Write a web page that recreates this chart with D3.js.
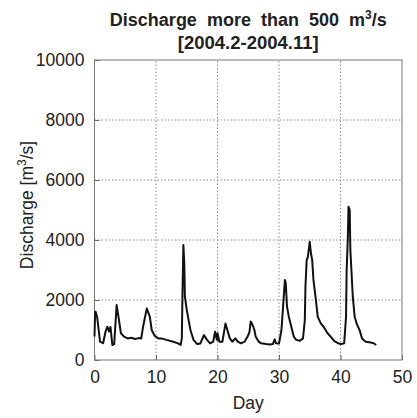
<!DOCTYPE html>
<html><head><meta charset="utf-8">
<script src="https://cdn.jsdelivr.net/npm/d3@7"></script>
<style>body{margin:0;background:#fff;} text{font-family:"Liberation Sans",Arial,sans-serif;}</style>
</head><body>
<svg id="chart" width="417" height="418"></svg>
<script>
const days = [0,0.1,0.2,0.45,0.9,1.4,1.8,2.1,2.35,2.6,2.9,3.2,3.6,3.9,4.3,4.8,5.4,6.0,6.6,7.2,7.6,7.9,8.5,9.0,9.3,9.8,10.4,10.9,11.7,12.8,13.6,14.0,14.2,14.3,14.45,14.6,14.7,15.0,15.3,15.6,16.1,16.7,17.2,17.8,18.3,18.8,19.3,19.6,19.9,20.0,20.3,20.8,21.3,21.6,22.0,22.4,22.9,23.3,23.8,24.4,24.9,25.2,25.4,25.7,26.0,26.2,26.7,27.1,27.9,28.5,29.0,29.3,29.5,30.0,30.4,30.7,30.96,31.1,31.3,31.6,32.0,32.4,32.8,33.4,33.9,34.2,34.3,34.5,34.7,34.8,35.0,35.2,35.4,35.6,36.0,36.3,36.8,37.4,37.9,38.4,39.0,39.6,40.1,40.6,40.9,41.0,41.2,41.3,41.5,41.6,41.8,42.0,42.3,42.7,43.1,43.5,44.1,44.9,45.4,45.8];
const discharge = [780,1610,1600,1400,610,560,950,1110,950,1100,500,530,1830,1440,890,780,720,740,700,730,720,1110,1720,1440,1000,800,720,720,670,610,555,500,720,2110,3830,3220,2110,1670,1330,1000,670,530,550,830,670,555,610,940,670,890,610,610,1220,1000,720,610,720,610,555,610,780,940,1280,1170,1000,780,610,555,530,520,530,690,560,550,1000,1890,2670,2560,1780,1440,1110,780,670,640,720,1330,2440,3330,3440,3610,3940,3550,3330,2670,2000,1440,1220,1060,890,780,630,560,530,560,1440,3000,4110,5110,5000,3670,2890,2110,1440,1170,1000,720,610,580,560,500];
const xTicks = [0,10,20,30,40,50];
const yTicks = [0,2000,4000,6000,8000,10000];

const svg = d3.select("#chart");
const x = d3.scaleLinear().domain([0,50]).range([94.5,402]);
const y = d3.scaleLinear().domain([0,10000]).range([360,60]);

// grid
svg.append("g").selectAll("line").data(xTicks.slice(1,-1)).join("line")
  .attr("x1",d=>x(d)).attr("x2",d=>x(d)).attr("y1",y(0)).attr("y2",y(10000))
  .attr("stroke","#888").attr("stroke-width",1).attr("stroke-dasharray","1.5,2");
svg.append("g").selectAll("line").data(yTicks.slice(1,-1)).join("line")
  .attr("y1",d=>y(d)).attr("y2",d=>y(d)).attr("x1",x(0)).attr("x2",x(50))
  .attr("stroke","#888").attr("stroke-width",1).attr("stroke-dasharray","1.5,2");

// axes
const xAxis = svg.append("g").attr("transform",`translate(0,${y(0)})`)
  .call(d3.axisBottom(x).tickValues(xTicks).tickSizeInner(-5).tickSizeOuter(0).tickPadding(11));
const yAxis = svg.append("g").attr("transform",`translate(${x(0)},0)`)
  .call(d3.axisLeft(y).tickValues(yTicks).tickFormat(d3.format("d")).tickSizeInner(-5).tickSizeOuter(0).tickPadding(10));
[xAxis,yAxis].forEach(g=>{
  g.select(".domain").remove();
  g.selectAll("line").attr("stroke","#666");
  g.selectAll("text").attr("font-size","17.5px").attr("fill","#222").attr("font-family","Liberation Sans, Arial, sans-serif");
});
// box
svg.append("rect").attr("x",x(0)).attr("y",y(10000)).attr("width",x(50)-x(0)).attr("height",y(0)-y(10000))
  .attr("fill","none").attr("stroke","#777").attr("stroke-width",1);

// line
svg.append("path").datum(days.map((d,i)=>[d,discharge[i]]))
  .attr("d",d3.line().x(d=>x(d[0])).y(d=>y(d[1])))
  .attr("fill","none").attr("stroke","#111").attr("stroke-width",2).attr("stroke-linejoin","round");

// title
const cx = (x(0)+x(50))/2;
const t1 = svg.append("text").attr("x",cx).attr("y",26).attr("text-anchor","middle")
  .attr("font-size","18px").attr("font-weight","bold").attr("fill","#222").attr("word-spacing","5px");
t1.append("tspan").text("Discharge more than 500 m");
t1.append("tspan").attr("dy",-7).attr("font-size","12px").text("3");
t1.append("tspan").attr("dy",7).text("/s");
svg.append("text").attr("x",cx).attr("y",49).attr("text-anchor","middle")
  .attr("font-size","18.5px").attr("font-weight","bold").attr("fill","#222").text("[2004.2-2004.11]");

// axis labels
svg.append("text").attr("x",cx).attr("y",409).attr("text-anchor","middle")
  .attr("font-size","17.5px").attr("fill","#222").text("Day");
const yl = svg.append("text").attr("transform",`translate(33,205) rotate(-90)`).attr("text-anchor","middle")
  .attr("font-size","17.5px").attr("fill","#222");
yl.append("tspan").text("Discharge [m");
yl.append("tspan").attr("dy",-7).attr("font-size","12px").text("3");
yl.append("tspan").attr("dy",7).text("/s]");
</script>
</body></html>
